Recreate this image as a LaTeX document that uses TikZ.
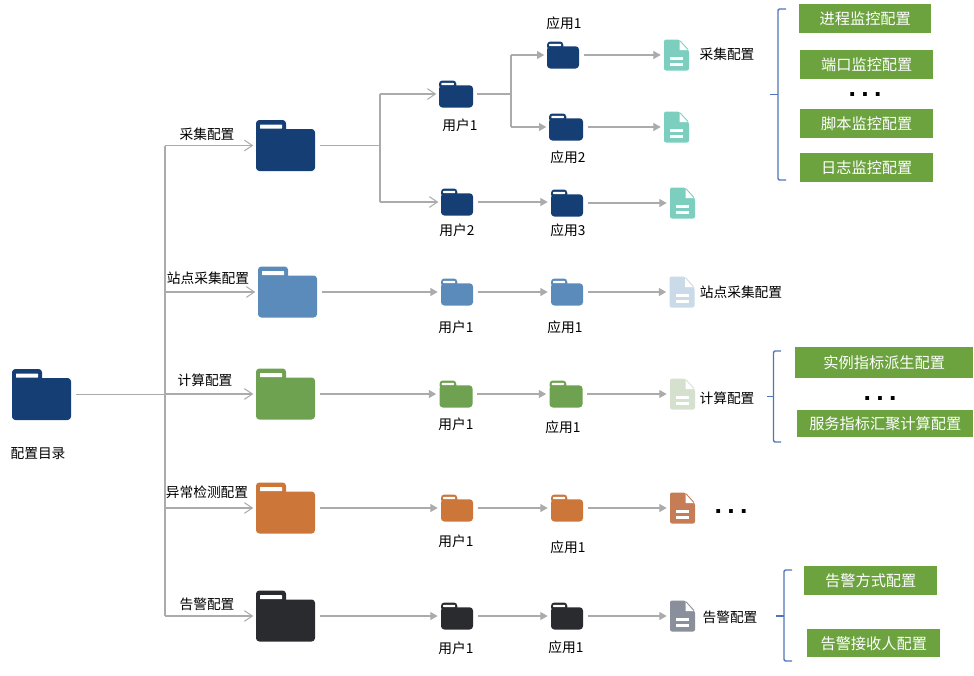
\documentclass[tikz,border=0pt]{standalone}
\usepackage{fontspec}
\setmainfont{Noto Sans CJK SC}
\newfontfamily\dotfont[Scale=1]{Liberation Sans}
\usetikzlibrary{arrows.meta}
\definecolor{cnavy}{HTML}{153E75}
\definecolor{cblue}{HTML}{5B8BBB}
\definecolor{cgreen}{HTML}{6FA250}
\definecolor{corange}{HTML}{CC763A}
\definecolor{cblack}{HTML}{2A2B2E}
\definecolor{dteal}{HTML}{7CCFBF}
\definecolor{dblue}{HTML}{CBDAE9}
\definecolor{dgreen}{HTML}{D5E0CE}
\definecolor{dorange}{HTML}{C67D56}
\definecolor{dgray}{HTML}{8A8F9C}
\definecolor{boxgreen}{HTML}{6CA33F}
\definecolor{brace}{HTML}{4F74B8}
\definecolor{conn}{HTML}{ABABAB}
\tikzset{
  x=0.75pt,y=-0.75pt,
  lbl/.style={font=\fontsize{10.3pt}{12pt}\selectfont,text=black,inner sep=0pt},
  gbox/.style={fill=boxgreen,text=white,font=\fontsize{11.4pt}{13pt}\selectfont,inner sep=0pt,anchor=north west},
  holder/.style={inner sep=0pt,outer sep=0pt,draw=none},
  wire/.style={draw=conn,line width=0.9pt},
  barb/.style={wire,-{Straight Barb[length=6pt,width=8pt,line width=0.8pt]}},
  tip/.style={wire,-{Triangle[length=5.5pt,width=6pt]}},
  bracket/.style={draw=brace,line width=1pt,rounded corners=1pt},
  dots/.style={inner sep=0pt,anchor=base,font=\dotfont\bfseries\fontsize{20pt}{20pt}\selectfont,text=black}
}
% name, x, y, width, height, colour (x,y = centre, px)
\newcommand{\folderat}[6]{%
  \node[holder,minimum width=#4*0.75pt,minimum height=#5*0.75pt] (#1) at (#2,#3) {};
  \begin{scope}[shift={(#1.center)},x=#4*0.75pt/59,y=-#5*0.75pt/51]
    \fill[#6,rounded corners=2.5] (-29.5,-25.5) rectangle (0.5,-10);
    \fill[#6,rounded corners=2.5] (-29.5,-16.5) rectangle (29.5,25.5);
    \fill[white,rounded corners=0.5] (-25.5,-21) rectangle (-3.5,-16.8);
  \end{scope}}
\newcommand{\docat}[4]{%
  \node[holder,minimum width=18.75pt,minimum height=23.25pt] (#1) at (#2,#3) {};
  \begin{scope}[shift={(#1.center)}]
    \fill[#4,rounded corners=1.5] (-12.5,-15.5) -- (3,-15.5) -- (12.5,-5) -- (12.5,15.5) -- (-12.5,15.5) -- cycle;
    \fill[white] (3,-14) -- (3,-5) -- (11,-5) -- cycle;
    \fill[white] (-6.5,1.5) rectangle (6.5,4.5);
    \fill[white] (-6.5,7.5) rectangle (6.5,10.5);
  \end{scope}}
% from a to b, horizontal, at the height of a
\newcommand{\link}[3]{\draw[#1] ([xshift=3.5pt]#2.east) -- ([xshift=-2.5pt]#2.east -| #3.west);}
\begin{document}
\begin{tikzpicture}
\useasboundingbox (0,0) rectangle (974,675);
% folders
\folderat{root}{41.5}{394.5}{59}{51}{cnavy}
\folderat{fa}{285.5}{145.5}{59}{51}{cnavy}
\folderat{fb}{287.5}{292}{59}{51}{cblue}
\folderat{fc}{285.5}{394}{59}{51}{cgreen}
\folderat{fd}{285.5}{508}{59}{51}{corange}
\folderat{fe}{285.5}{616}{59}{51}{cblack}
\folderat{ua}{456}{94}{34}{27}{cnavy}
\folderat{ub}{457}{202}{32}{27}{cnavy}
\folderat{aa}{563}{55}{32}{27}{cnavy}
\folderat{ab}{566}{127}{34}{27}{cnavy}
\folderat{ac}{567}{203}{32}{27}{cnavy}
\folderat{uc}{457}{292}{32}{27}{cblue}
\folderat{ad}{567}{292}{32}{27}{cblue}
\folderat{ud}{456}{394}{33}{27}{cgreen}
\folderat{ae}{566}{394}{33}{27}{cgreen}
\folderat{ue}{457}{508}{32}{27}{corange}
\folderat{af}{567}{508}{32}{27}{corange}
\folderat{uf}{457}{616}{32}{27}{cblack}
\folderat{ag}{567}{616}{32}{27}{cblack}
% documents
\docat{da}{676.5}{55}{dteal}
\docat{db}{676.5}{127}{dteal}
\docat{dc}{682.5}{203}{dteal}
\docat{dd}{682}{292}{dblue}
\docat{de}{682.5}{394}{dgreen}
\docat{df}{682.5}{508}{dorange}
\docat{dg}{682.5}{616}{dgray}
% junctions
\coordinate (t0) at (165,395);
\coordinate (ta) at (165,145.5);
\coordinate (tb) at (165,292);
\coordinate (tc) at (165,394);
\coordinate (td) at (165,508);
\coordinate (te) at (165,616);
\coordinate (ja) at (380,145.5);
\coordinate (jb) at (380,94);
\coordinate (jc) at (380,202);
\coordinate (ka) at (511,94);
\coordinate (kb) at (511,55);
\coordinate (kc) at (511,127);
% trunk
\draw[wire] ([xshift=3.75pt]root.east) -- (root.east -| t0);
\draw[wire] (ta) -- (te);
\draw[barb] (ta) -- ([xshift=-2pt]fa.west);
\draw[barb] (tb) -- ([xshift=-2pt]fb.west);
\draw[barb] (tc) -- ([xshift=-2pt]fc.west);
\draw[barb] (td) -- ([xshift=-2pt]fd.west);
\draw[barb] (te) -- ([xshift=-2pt]fe.west);
% first branch
\draw[wire] ([xshift=3.75pt]fa.east) -- (ja);
\draw[wire] (jb) -- (jc);
\draw[barb] (jb) -- ([xshift=-2pt]ua.west);
\draw[barb] (jc) -- ([xshift=-2pt]ub.west);
\draw[wire] ([xshift=3pt]ua.east) -- (ka);
\draw[wire] (kb) -- (kc);
\draw[tip] (kb) -- ([xshift=-2pt]aa.west);
\draw[tip] (kc) -- ([xshift=-2pt]ab.west);
\link{tip}{ub}{ac}
\link{tip}{aa}{da}
\link{tip}{ab}{db}
\link{tip}{ac}{dc}
% other rows
\link{tip}{fb}{uc}
\link{tip}{uc}{ad}
\link{tip}{ad}{dd}
\link{tip}{fc}{ud}
\link{tip}{ud}{ae}
\link{tip}{ae}{de}
\link{tip}{fd}{ue}
\link{tip}{ue}{af}
\link{tip}{af}{df}
\link{tip}{fe}{uf}
\link{tip}{uf}{ag}
\link{tip}{ag}{dg}
% labels
\node[lbl] (l1) at (38,454) {配置目录};
\node[lbl] (l2) at (207,134) {采集配置};
\node[lbl] (l3) at (208,278) {站点采集配置};
\node[lbl] (l4) at (205,380) {计算配置};
\node[lbl] (l5) at (207,492) {异常检测配置};
\node[lbl] (l6) at (207,604) {告警配置};
\node[lbl] (l7) at (564,23) {应用1};
\node[lbl] (l8) at (460,125) {用户1};
\node[lbl] (l9) at (568,157) {应用2};
\node[lbl] (l10) at (457,230) {用户2};
\node[lbl] (l11) at (568,230) {应用3};
\node[lbl] (l12) at (727,54) {采集配置};
\node[lbl] (l13) at (456,327) {用户1};
\node[lbl] (l14) at (565,327) {应用1};
\node[lbl] (l15) at (741,292) {站点采集配置};
\node[lbl] (l16) at (456,424) {用户1};
\node[lbl] (l17) at (563,427) {应用1};
\node[lbl] (l18) at (727,398) {计算配置};
\node[lbl] (l19) at (456,541) {用户1};
\node[lbl] (l20) at (568,547) {应用1};
\node[lbl] (l21) at (456,648) {用户1};
\node[lbl] (l22) at (566,647) {应用1};
\node[lbl] (l23) at (730,617) {告警配置};
% green boxes
\node[gbox,minimum width=99pt,minimum height=21.75pt] (g1) at (799,4) {进程监控配置};
\node[gbox,minimum width=99.75pt,minimum height=21.75pt] (g2) at (800,50) {端口监控配置};
\node[gbox,minimum width=99.75pt,minimum height=21.75pt] (g3) at (800,109) {脚本监控配置};
\node[gbox,minimum width=99.75pt,minimum height=21.75pt] (g4) at (800,153) {日志监控配置};
\node[gbox,minimum width=133.5pt,minimum height=23.25pt] (g5) at (795,347) {实例指标派生配置};
\node[gbox,minimum width=132pt,minimum height=20.25pt] (g6) at (797,410) {服务指标汇聚计算配置};
\node[gbox,minimum width=99.75pt,minimum height=21.75pt] (g7) at (804,566) {告警方式配置};
\node[gbox,minimum width=99.75pt,minimum height=21pt] (g8) at (807,629) {告警接收人配置};
% dots
\node[dots] (d1) at (865,96) {.\hspace{4pt}.\hspace{4pt}.};
\node[dots] (d2) at (880,400) {.\hspace{4pt}.\hspace{4pt}.};
\node[dots] (d3) at (731,513) {.\hspace{4pt}.\hspace{4pt}.};
% braces
\draw[bracket] (786,9) -- (778,9) -- (778,180) -- (786,180);
\draw[bracket] (770,94.5) -- (778,94.5);
\draw[bracket] (781,351) -- (773.5,351) -- (773.5,442) -- (781,442);
\draw[bracket] (767,396.5) -- (773.5,396.5);
\draw[bracket] (792,570) -- (784,570) -- (784,661) -- (792,661);
\draw[bracket] (776,616) -- (784,616);
\end{tikzpicture}
\end{document}
